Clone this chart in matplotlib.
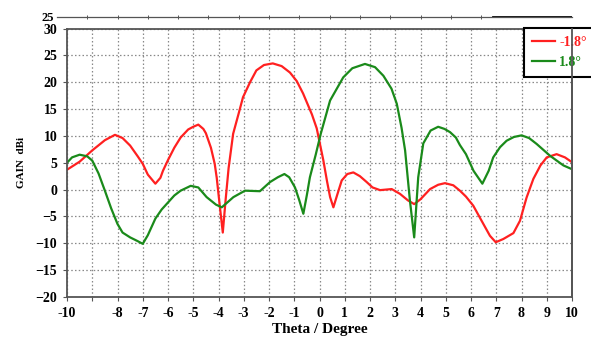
import numpy as np
import matplotlib.pyplot as plt

# gain pattern (theta in degrees, gain in dBi)
theta_red = [-10, -9.5, -9, -8.5, -8.1, -7.8, -7.5, -7.2, -7, -6.8, -6.5, -6.3, -6.2, -6, -5.75, -5.5,
             -5.2, -5, -4.8, -4.6, -4.5, -4.3, -4.15, -4.07, -3.95, -3.83, -3.72, -3.6, -3.42,
             -3.2, -3.03, -2.75, -2.5, -2.2, -1.85, -1.5, -1.17, -0.9, -0.65, -0.3, -0.11,
             0.15, 0.3, 0.42, 0.55, 0.7, 0.88, 1.1, 1.34, 1.6, 1.87, 2.1, 2.4, 2.86, 3.19,
             3.5, 3.75, 4.0, 4.38, 4.7, 4.97, 5.3, 5.56, 5.8, 6.09, 6.49, 6.75, 6.98, 7.28,
             7.68, 7.94, 8.2, 8.47, 8.75, 9.0, 9.39, 9.72, 10]
gain_red = [3.7, 5.2, 7.3, 9.2, 10.2, 9.6, 8.2, 6.2, 4.8, 2.8, 1.1, 2.2, 3.5, 5.5, 7.8, 9.7,
            11.2, 11.7, 12.1, 11.3, 10.5, 7.8, 4.8, 2.2, -3.0, -8.0, -2.0, 4.0, 10.4,
            14.2, 17.2, 20.0, 22.2, 23.2, 23.5, 23.0, 21.8, 20.2, 17.9, 14.0, 11.4,
            5.5, 1.5, -1.4, -3.3, -1.0, 1.7, 2.9, 3.2, 2.5, 1.4, 0.4, -0.1, 0.1, -0.8,
            -2.0, -2.7, -1.8, 0.1, 0.9, 1.2, 0.8, -0.2, -1.3, -3.0, -6.4, -8.6, -9.8, -9.2,
            -8.1, -5.8, -1.5, 2.0, 4.5, 6.0, 6.6, 6.0, 5.1]

theta_green = [-10, -9.8, -9.5, -9.2, -9, -8.75, -8.5, -8.25, -8, -7.8, -7.5, -7.2, -7,
               -6.8, -6.5, -6.25, -6, -5.75, -5.5, -5.1, -4.8, -4.47, -4.1, -3.87, -3.41, -2.95,
               -2.36, -1.96, -1.65, -1.39, -1.2, -0.97, -0.8, -0.64, -0.5, -0.38, -0.15, 0.05,
               0.42, 0.94, 1.3, 1.8, 2.2, 2.53, 2.85, 3.06, 3.25, 3.39, 3.58, 3.75, 3.91,
               4.11, 4.4, 4.7, 4.95, 5.17, 5.4, 5.56, 5.8, 6.1, 6.45, 6.7, 6.88, 7.15, 7.41,
               7.7, 8.0, 8.3, 8.6, 9.13, 9.66, 10]
gain_green = [5.0, 6.0, 6.5, 6.2, 5.4, 3.0, -0.2, -3.5, -6.4, -8.0, -8.9, -9.6, -10.1,
              -8.5, -5.4, -3.7, -2.4, -1.1, -0.2, 0.7, 0.4, -1.4, -2.8, -3.3, -1.4, -0.2,
              -0.3, 1.4, 2.3, 2.9, 2.3, 0.4, -2.0, -4.5, -1.0, 2.3, 6.5, 10.4,
              16.6, 20.9, 22.6, 23.4, 22.8, 21.2, 18.8, 16.0, 11.5, 7.3, -2.0, -8.9, 2.3,
              8.6, 11.0, 11.7, 11.3, 10.7, 9.7, 8.3, 6.6, 3.5, 1.1, 3.5, 6.0, 7.9, 9.1,
              9.8, 10.1, 9.6, 8.5, 6.3, 4.5, 3.8]

labels = ['-1.8°', '1.8°']
colors = ['#ff2020', '#1a8a1a']

xticks = np.arange(-10, 11)
xticklabels = ['' if t == -9 else str(t) for t in xticks]
yticks = np.arange(-20, 31, 5)

plt.rcParams['font.family'] = ['Liberation Serif', 'DejaVu Serif']
plt.rcParams['font.weight'] = 'bold'

fig = plt.figure(figsize=(5.91, 3.42), dpi=100)
ax = fig.add_axes([67/591, 1-297/342, (572-67)/591, (297-28.5)/342])

for th, g, lab, c in zip([theta_red, theta_green], [gain_red, gain_green], labels, colors):
    ax.plot(th, g, color=c, lw=1.6, label=lab, solid_joinstyle='round')

ax.set_xlim(-10, 10)
ax.set_ylim(-20, 30)
ax.set_xticks(xticks)
ax.set_xticklabels(xticklabels)
ax.set_yticks(yticks)
ax.grid(True, color='#888888', ls=(0, (1.2, 1.8)), lw=0.9)
ax.tick_params(labelsize=10, length=3, width=0.8, color='#555555', pad=4)
for sp in ax.spines.values():
    sp.set_color('#555555')
    sp.set_linewidth(1.3)

ax.set_xlabel('Theta / Degree', fontsize=11, fontweight='bold', labelpad=2)
ax.set_ylabel('GAIN  dBi', fontsize=8, fontweight='bold', labelpad=7)

# legend sticks out past the right edge of the figure, as in the original
leg = fig.legend(*ax.get_legend_handles_labels(), loc='upper left',
                 bbox_to_anchor=(524/591, 1-28/342), borderaxespad=0, fancybox=False,
                 framealpha=1, edgecolor='black', fontsize=10, handlelength=1.7,
                 handletextpad=0.3, borderpad=0.55, labelspacing=0.55)
leg.get_frame().set_linewidth(1.5)
for txt, c in zip(leg.get_texts(), colors):
    txt.set_color(c)
    txt.set_fontweight('bold')
# right spine drawn over the legend box
fig.add_artist(plt.Line2D([572/591, 572/591], [1-297/342, 1-28.5/342],
                          color='#555555', lw=1.3, zorder=10))

# stray axis line left over at the top of the original figure
top = fig.add_axes([57/591, 1-16.5/342, (572-57)/591, 0.0001])
top.set_xlim(0, 17)
top.set_ylim(0, 1)
for name in ['top', 'right', 'left']:
    top.spines[name].set_visible(False)
top.spines['bottom'].set_color('#555555')
top.spines['bottom'].set_linewidth(0.9)
top.set_xticks(np.arange(1, 15))
top.set_xticklabels([])
top.tick_params(axis='x', direction='inout', length=3, width=0.7, color='#555555')
top.set_yticks([0])
top.set_yticklabels(['25'], fontsize=9, fontweight='bold')
top.tick_params(axis='y', length=0, pad=2)
top.axhline(0, xmin=(493-57)/515, xmax=1, color='black', lw=2)

fig.savefig('out.png', dpi=100)
